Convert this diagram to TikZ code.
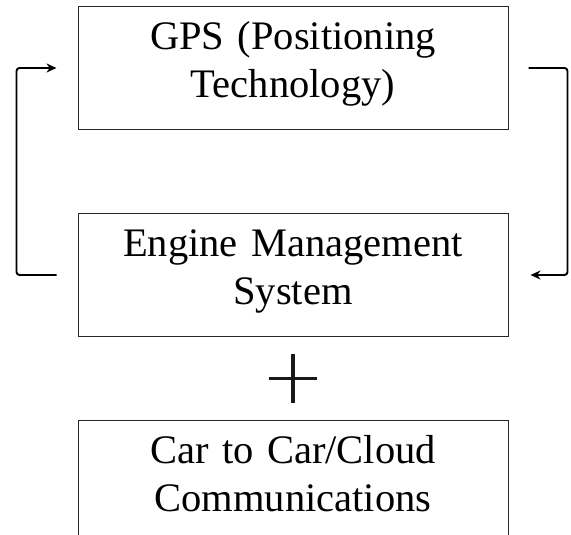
\documentclass[tikz,border=0pt]{standalone}
\usepackage{fontspec}
\setmainfont{Liberation Serif}
\usetikzlibrary{positioning,arrows.meta,calc}

\begin{document}
\begin{tikzpicture}[x=1pt,y=-1pt,
    block/.style={draw=black!85, line width=1pt, anchor=north,
      text width=430pt, inner sep=0pt, align=center,
      text height=43pt, text depth=80pt,
      font=\fontsize{40.5}{48}\selectfont},
    link/.style={draw=black, line width=1.9pt, rounded corners=3pt,
      -{Stealth[length=10pt,width=9pt]}},
    node distance=83pt]

    \useasboundingbox (0,0) rectangle (571,535);

    \node[block] (gps) at (293,6) {GPS (Positioning\\Technology)};
    \node[block, below=of gps] (ems) {Engine Management\\System};
    \node[block, below=of ems] (c2c) {Car to Car/Cloud\\Communications};

    \node[inner sep=0pt, minimum size=48pt] (plus)
        at ($(ems.south)!0.5!(c2c.north)$) {};
    \draw[line width=3.4pt, black!90] (plus.north) -- (plus.south)
                            (plus.west) -- (plus.east);

    % feedback loop
    \draw[link] ([xshift=-21pt]ems.west) -- ++(-40pt,0) |- ([xshift=-21pt]gps.west);
    \draw[link] ([xshift=20pt]gps.east) -- ++(39pt,0) |- ([xshift=22pt]ems.east);

\end{tikzpicture}
\end{document}
